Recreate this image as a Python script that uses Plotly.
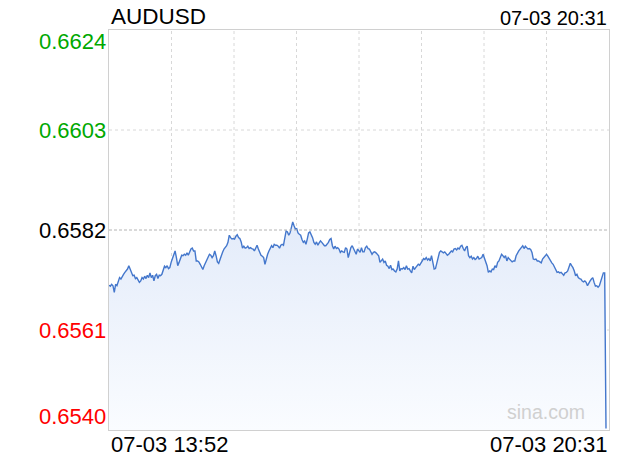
import pandas as pd
import plotly.graph_objects as go

# AUDUSD intraday quotes, 07-03 13:52 -> 20:31
prices = [
    0.65704, 0.65702, 0.65706, 0.65703, 0.65689, 0.65706, 0.65703, 0.65710, 0.65720, 0.65717,
    0.65724, 0.65727, 0.65731, 0.65734, 0.65738, 0.65745, 0.65739, 0.65731, 0.65724, 0.65725,
    0.65718, 0.65720, 0.65713, 0.65710, 0.65713, 0.65720, 0.65717, 0.65723, 0.65718, 0.65725,
    0.65720, 0.65730, 0.65720, 0.65725, 0.65713, 0.65724, 0.65727, 0.65718, 0.65725, 0.65724,
    0.65727, 0.65734, 0.65744, 0.65741, 0.65745, 0.65739, 0.65741, 0.65752, 0.65759, 0.65766,
    0.65776, 0.65762, 0.65745, 0.65752, 0.65762, 0.65767, 0.65766, 0.65769, 0.65767, 0.65772,
    0.65767, 0.65773, 0.65780, 0.65782, 0.65776,
    0.65776, 0.65755, 0.65755, 0.65753, 0.65748, 0.65741, 0.65737, 0.65745, 0.65752, 0.65755,
    0.65762, 0.65769, 0.65767, 0.65762, 0.65766, 0.65776, 0.65766, 0.65753, 0.65750, 0.65759,
    0.65769, 0.65774, 0.65780, 0.65783, 0.65787, 0.65794, 0.65809, 0.65804, 0.65801, 0.65802,
    0.65801, 0.65807, 0.65810, 0.65804, 0.65802, 0.65795, 0.65782, 0.65786, 0.65782, 0.65783,
    0.65786, 0.65781, 0.65783, 0.65781, 0.65780, 0.65776, 0.65783, 0.65788, 0.65780, 0.65773,
    0.65767, 0.65765, 0.65762, 0.65748, 0.65760, 0.65769, 0.65776, 0.65783, 0.65787, 0.65783,
    0.65790, 0.65788, 0.65788, 0.65786, 0.65782,
    0.65788, 0.65790, 0.65788, 0.65801, 0.65818, 0.65816, 0.65809, 0.65814, 0.65829, 0.65837,
    0.65829, 0.65822, 0.65823, 0.65814, 0.65811, 0.65809, 0.65800, 0.65794, 0.65797, 0.65790,
    0.65801, 0.65814, 0.65816, 0.65811, 0.65804, 0.65794, 0.65790, 0.65795, 0.65788, 0.65793,
    0.65797, 0.65794, 0.65790, 0.65787, 0.65787, 0.65790, 0.65794, 0.65800, 0.65802, 0.65787,
    0.65780, 0.65786, 0.65781, 0.65783, 0.65780, 0.65773, 0.65776, 0.65774, 0.65773, 0.65783,
    0.65780, 0.65762, 0.65773, 0.65783, 0.65787, 0.65780, 0.65774, 0.65769, 0.65780, 0.65776,
    0.65773, 0.65783, 0.65774, 0.65774,
    0.65783, 0.65786, 0.65781, 0.65780, 0.65773, 0.65769, 0.65773, 0.65774, 0.65772, 0.65769,
    0.65766, 0.65752, 0.65755, 0.65759, 0.65752, 0.65755, 0.65746, 0.65744, 0.65739, 0.65746,
    0.65737, 0.65738, 0.65734, 0.65732, 0.65738, 0.65755, 0.65734, 0.65739, 0.65738, 0.65741,
    0.65737, 0.65745, 0.65738, 0.65739, 0.65734, 0.65730, 0.65744, 0.65737, 0.65741, 0.65745,
    0.65748, 0.65746, 0.65752, 0.65755, 0.65760, 0.65758, 0.65762, 0.65757, 0.65760, 0.65755,
    0.65766, 0.65752, 0.65738, 0.65739, 0.65752, 0.65762, 0.65773, 0.65776, 0.65774, 0.65772,
    0.65774, 0.65769, 0.65767, 0.65769,
    0.65773, 0.65776, 0.65774, 0.65780, 0.65781, 0.65778, 0.65782, 0.65780, 0.65786, 0.65788,
    0.65781, 0.65776, 0.65783, 0.65786, 0.65766, 0.65762, 0.65765, 0.65759, 0.65762, 0.65758,
    0.65760, 0.65765, 0.65759, 0.65760, 0.65762, 0.65769, 0.65762, 0.65755, 0.65745, 0.65731,
    0.65734, 0.65732, 0.65738, 0.65737, 0.65745, 0.65741, 0.65752, 0.65755, 0.65762, 0.65769,
    0.65766, 0.65762, 0.65766, 0.65755, 0.65762, 0.65759, 0.65755, 0.65753, 0.65755, 0.65755,
    0.65766, 0.65773, 0.65776, 0.65780, 0.65783, 0.65787, 0.65781, 0.65786, 0.65783, 0.65780,
    0.65781, 0.65779, 0.65773, 0.65759,
    0.65758, 0.65759, 0.65755, 0.65755, 0.65753, 0.65751, 0.65759, 0.65762, 0.65766, 0.65769,
    0.65765, 0.65760, 0.65753, 0.65751, 0.65748, 0.65741, 0.65734, 0.65731, 0.65732, 0.65730,
    0.65731, 0.65727, 0.65725, 0.65730, 0.65731, 0.65734, 0.65745, 0.65750, 0.65745, 0.65741,
    0.65734, 0.65724, 0.65727, 0.65720, 0.65718, 0.65717, 0.65713, 0.65711, 0.65713, 0.65710,
    0.65703, 0.65710, 0.65713, 0.65717, 0.65720, 0.65710, 0.65702, 0.65703, 0.65700, 0.65703,
    0.65713, 0.65724, 0.65730, 0.65730,
    0.65403,
]

symbol = "AUDUSD"
start_time = "2024-07-03 13:52"
end_time = "2024-07-03 20:31"
prev_close = 0.6582
y_ticks = [0.6540, 0.6561, 0.6582, 0.6603, 0.6624]
x_labels = ["07-03 13:52", "07-03 20:31"]

times = pd.date_range(start_time, end_time, periods=len(prices))

UP = "#00a800"
DOWN = "#ff0000"
LINE = "#4477cc"
FONT = "Liberation Sans, Arial, sans-serif"

fig = go.Figure()

fig.add_trace(go.Scatter(
    x=times,
    y=prices,
    mode="lines",
    line=dict(color=LINE, width=1.4),
    fill="tozeroy",
    fillgradient=dict(
        type="vertical",
        colorscale=[[0, "rgb(250,252,255)"], [1, "rgb(228,236,250)"]],
        start=y_ticks[0],
        stop=prev_close,
    ),
    hoverinfo="skip",
    showlegend=False,
))

# vertical grid: 8 equal columns
for k in range(1, 8):
    fig.add_shape(type="line", xref="paper", yref="paper", x0=k / 8, x1=k / 8, y0=0, y1=1,
                  line=dict(color="#d8d8d8", width=1, dash="dot"), layer="below")

# horizontal grid
for v in y_ticks[1:-1]:
    is_close = abs(v - prev_close) < 1e-9
    fig.add_shape(type="line", xref="paper", yref="y", x0=0, x1=1, y0=v, y1=v,
                  line=dict(color="#b4b4b4" if is_close else "#d8d8d8", width=1,
                            dash="3px,2px" if is_close else "dot"),
                  layer="above" if is_close else "below")

# y labels, coloured against previous close
for i, v in enumerate(y_ticks):
    if abs(v - prev_close) < 1e-9:
        col = "#000000"
    elif v > prev_close:
        col = UP
    else:
        col = DOWN
    shift = 0
    if i == 0:
        shift = 14
    elif i == len(y_ticks) - 1:
        shift = -11
    fig.add_annotation(text=f"{v:.4f}", xref="paper", yref="y", x=0, y=v,
                       xanchor="right", yanchor="middle", xshift=-1, yshift=shift,
                       showarrow=False, font=dict(size=22, color=col, family=FONT))

# title and time stamps
fig.add_annotation(text=symbol, xref="paper", yref="paper", x=0, y=1, yshift=-1,
                   xanchor="left", yanchor="bottom", showarrow=False,
                   font=dict(size=22.5, color="#000000", family=FONT))
fig.add_annotation(text=x_labels[1], xref="paper", yref="paper", x=1, y=1, yshift=-1,
                   xanchor="right", yanchor="bottom", showarrow=False,
                   font=dict(size=20, color="#000000", family=FONT))
fig.add_annotation(text=x_labels[0], xref="paper", yref="paper", x=0, y=0, yshift=0,
                   xanchor="left", yanchor="top", showarrow=False,
                   font=dict(size=22, color="#000000", family=FONT))
fig.add_annotation(text=x_labels[1], xref="paper", yref="paper", x=1, y=0, yshift=0,
                   xanchor="right", yanchor="top", showarrow=False,
                   font=dict(size=22, color="#000000", family=FONT))

# watermark
fig.add_annotation(text="sina.com", xref="paper", yref="paper", x=0.874, y=0.045,
                   xanchor="center", yanchor="middle", showarrow=False,
                   font=dict(size=19.5, color="#d0d0d0", family=FONT))

x_end = times[0] + (times[-1] - times[0]) * 500 / 497

fig.update_layout(
    width=620,
    height=460,
    margin=dict(l=109, r=11, t=30, b=30),
    paper_bgcolor="white",
    plot_bgcolor="white",
    xaxis=dict(range=[times[0], x_end], showgrid=False, showticklabels=False,
               zeroline=False, showline=True, mirror=True, linecolor="#d0d0d0", linewidth=1),
    yaxis=dict(range=[y_ticks[0], y_ticks[-1]], showgrid=False, showticklabels=False,
               zeroline=False, showline=True, mirror=True, linecolor="#d0d0d0", linewidth=1),
)

fig.write_html("out.html", config={"displayModeBar": False},
               post_script="document.body.style.margin='0';")
